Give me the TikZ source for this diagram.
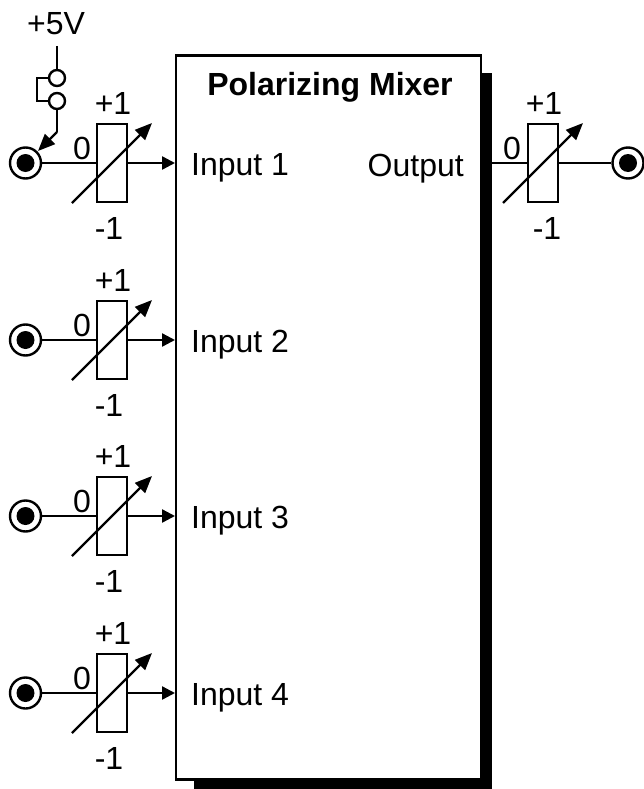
\documentclass[tikz,border=0pt]{standalone}
\usepackage{fontspec}
\setmainfont{Liberation Sans}
\usetikzlibrary{arrows.meta}
\tikzset{
  x=1pt,y=-1pt,
  wire/.style={line width=2.4pt},
  arrowwire/.style={wire,-{Triangle[length=13pt,width=13pt]}},
  slantwire/.style={wire,-{Triangle[length=17pt,width=14pt]}},
  txt/.style={inner sep=0pt,font=\fontsize{32}{32}\selectfont},
  atten/.style={draw,line width=2.4pt,fill=white,minimum width=30pt,minimum height=78pt,inner sep=0pt},
  jack/.style={circle,draw,line width=2.4pt,fill=white,minimum size=31pt,inner sep=0pt},
  jackdot/.style={circle,fill=black,minimum size=18pt,inner sep=0pt},
  pin/.style={circle,draw,line width=2.4pt,fill=white,minimum size=16pt,inner sep=0pt},
}
\begin{document}
\begin{tikzpicture}
\useasboundingbox (0,0) rectangle (643,789);
\fill[white] (0,0) rectangle (643,789);
\fill[black] (194,73) rectangle (492,789);
\node[draw,line width=2.6pt,fill=white,minimum width=305pt,minimum height=724pt,inner sep=0pt,anchor=north west] (mixer) at (174.5,54) {};
\node[txt,font=\fontsize{32}{32}\selectfont\bfseries,anchor=base] (title) at (330,96) {Polarizing Mixer};
\node[txt,anchor=base east] (output) at (464,176) {Output};
\foreach \n/\y in {1/163,2/340,3/516,4/693}{
  \node[jack] (j\n) at (25.5,\y) {};
  \node[jackdot] (d\n) at (25.5,\y) {};
  \node[atten] (a\n) at (112,\y) {};
  \coordinate (s\n) at (72,\y+40);
  \coordinate (e\n) at (152,\y-40);
  \coordinate (m\n) at (175,\y);
  \draw[wire] (j\n) -- (a\n);
  \draw[arrowwire] (a\n) -- (m\n);
  \draw[slantwire] (s\n) -- (e\n);
  \node[txt] (p\n) at (113,\y-60) {+1};
  \node[txt] (z\n) at (82,\y-15) {0};
  \node[txt] (q\n) at (109,\y+65) {-1};
  \node[txt,anchor=base west] (i\n) at (191,\y+12) {Input \n};
}
% output stage
\node[jack] (jo) at (628,163) {};
\node[jackdot] (do) at (628,163) {};
\node[atten] (ao) at (543,163) {};
\coordinate (so) at (503,203);
\coordinate (eo) at (583,123);
\coordinate (mo) at (482,163);
\draw[wire] (mo) -- (ao);
\draw[wire] (ao) -- (jo);
\draw[slantwire] (so) -- (eo);
\node[txt] (po) at (544,103) {+1};
\node[txt] (zo) at (512,148) {0};
\node[txt] (qo) at (547,228) {-1};
% jumper
\node[txt] (v) at (56,24) {+5V};
\node[pin] (t1) at (57,78) {};
\node[pin] (t2) at (57,101) {};
\coordinate (vt) at (57,46);
\coordinate (bend) at (57,132);
\coordinate (tip) at (38,151);
\draw[wire] (vt) -- (t1);
\draw[wire] (t1.west) -| (37,90) |- (t2.west);
\draw[wire] (t2) -- (bend);
\draw[slantwire] (bend) -- (tip);
\end{tikzpicture}
\end{document}
